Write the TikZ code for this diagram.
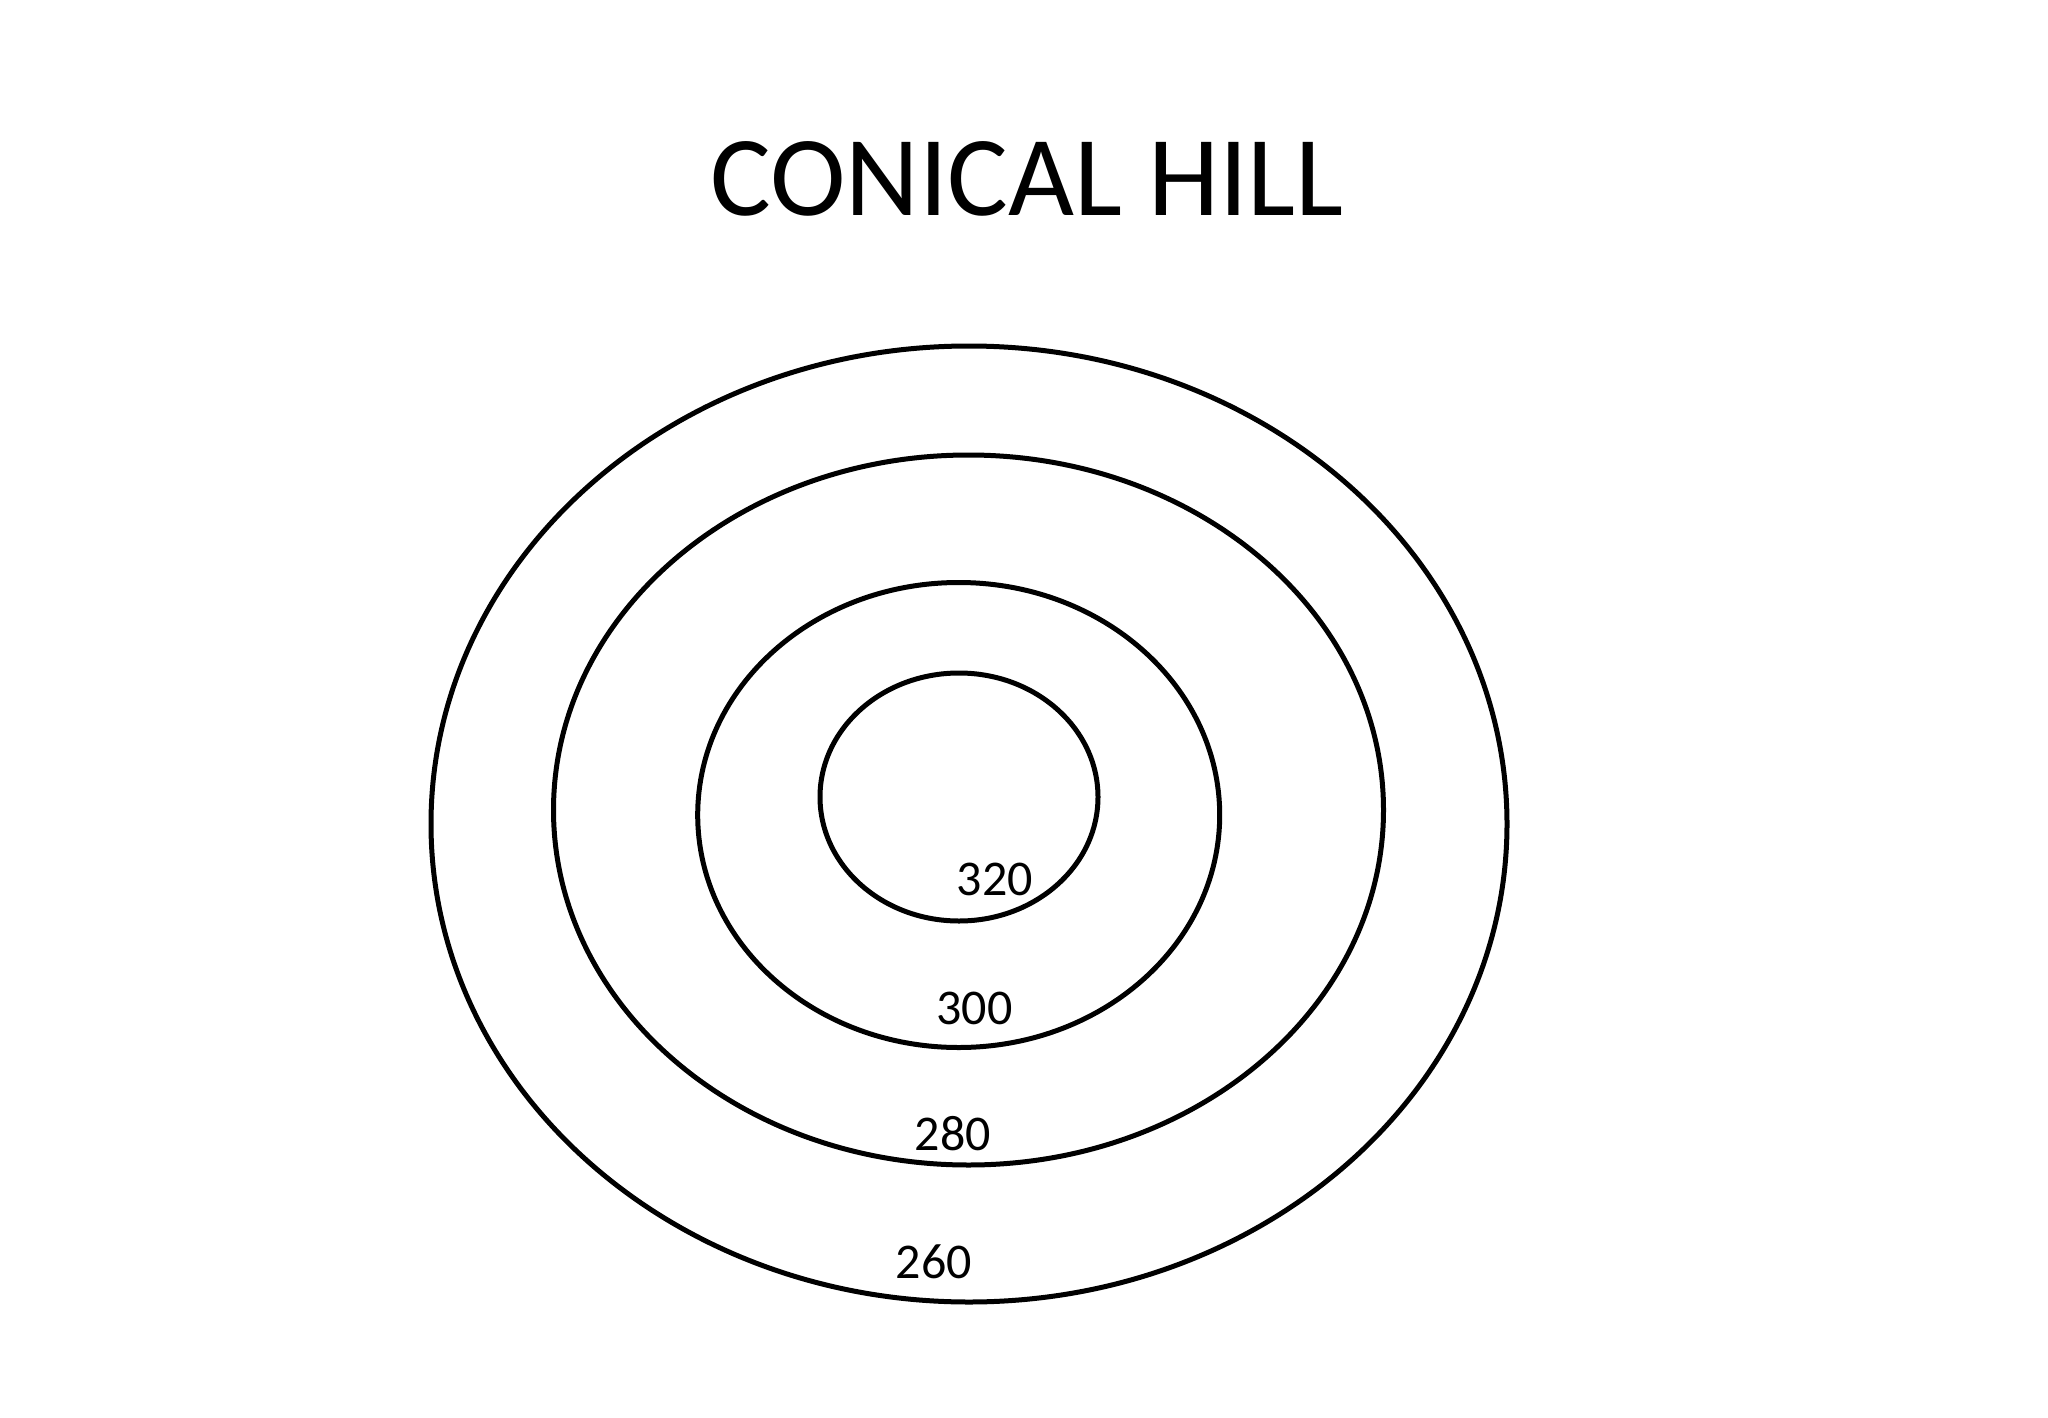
\documentclass[tikz,border=0pt]{standalone}
\usepackage{fontspec}
\setmainfont{Carlito}
\begin{document}
\begin{tikzpicture}[x=1pt,y=-1pt,
  contour/.style={draw=black,line width=5pt},
  lbl/.style={font=\fontsize{50}{58}\selectfont,inner sep=0pt},
  ttl/.style={font=\fontsize{114}{130}\selectfont,inner sep=0pt}]
\useasboundingbox[fill=white] (0,0) rectangle (2048,1418);
\node[ttl] (title) at (1027,179) {CONICAL HILL};
\draw[contour] (969,824) ellipse[x radius=538,y radius=478];
\draw[contour] (968.5,810) ellipse[x radius=415,y radius=355];
\draw[contour] (958.7,815) ellipse[x radius=261,y radius=232.5];
\draw[contour] (959,797) ellipse[x radius=139,y radius=124];
\node[lbl] (l320) at (995,879) {320};
\node[lbl] (l300) at (974.5,1008) {300};
\node[lbl] (l280) at (953,1134) {280};
\node[lbl] (l260) at (934,1262) {260};
\end{tikzpicture}
\end{document}
